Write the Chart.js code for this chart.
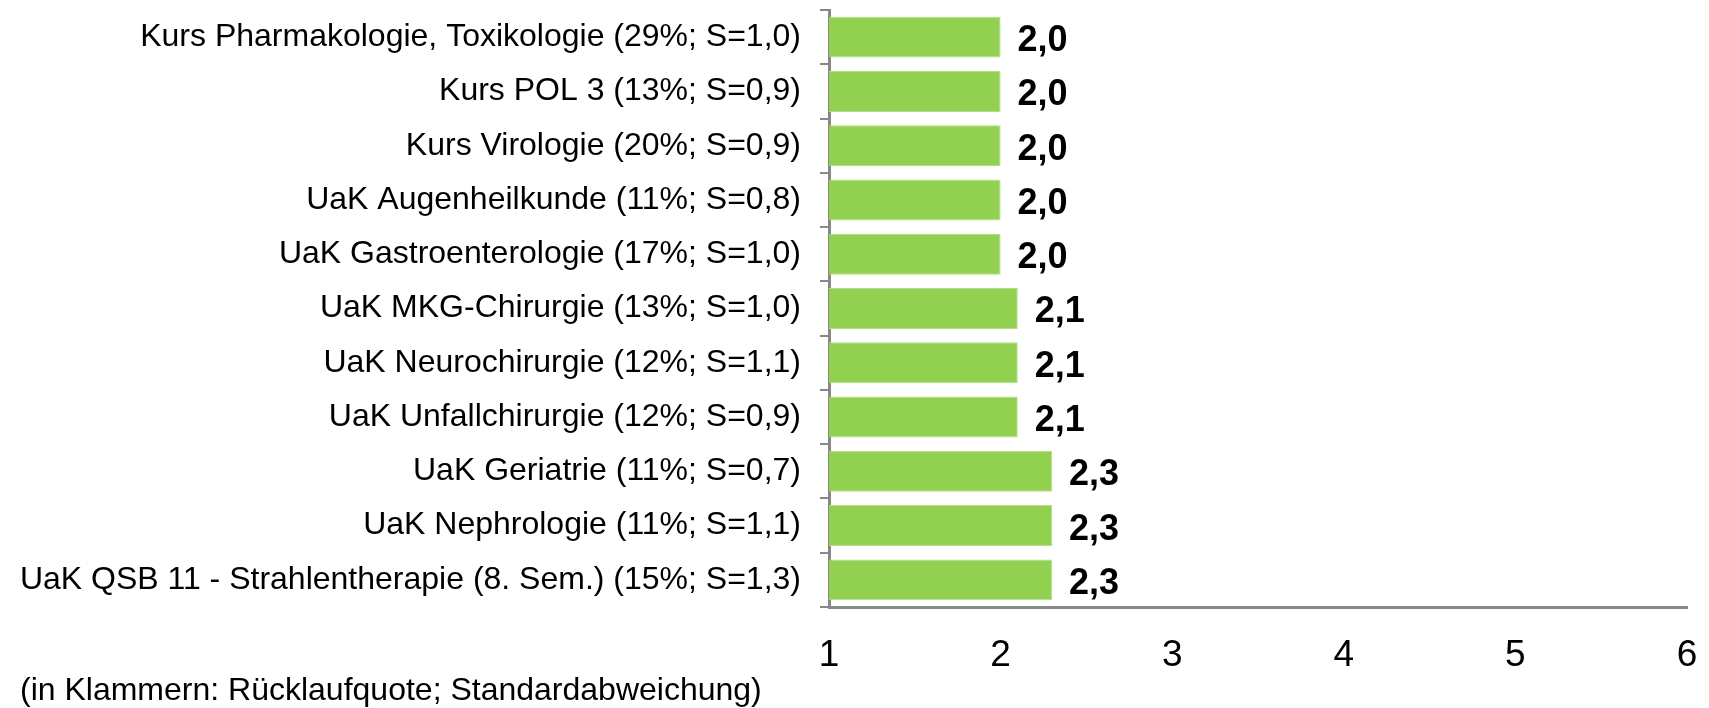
<!DOCTYPE html>
<html>
<head>
<meta charset="utf-8">
<script src="https://cdn.jsdelivr.net/npm/chart.js@4/dist/chart.umd.min.js"></script>
<style>
  html, body { margin: 0; padding: 0; background: #fff; }
  #wrap { width: 1709px; height: 708px; position: relative; }
</style>
</head>
<body>
<div id="wrap"><canvas id="evalChart"></canvas></div>
<script>
// Lehrveranstaltungen mit Rücklaufquote und Standardabweichung
const courses = [
  'Kurs Pharmakologie, Toxikologie (29%; S=1,0)',
  'Kurs POL 3 (13%; S=0,9)',
  'Kurs Virologie (20%; S=0,9)',
  'UaK Augenheilkunde (11%; S=0,8)',
  'UaK Gastroenterologie (17%; S=1,0)',
  'UaK MKG-Chirurgie (13%; S=1,0)',
  'UaK Neurochirurgie (12%; S=1,1)',
  'UaK Unfallchirurgie (12%; S=0,9)',
  'UaK Geriatrie (11%; S=0,7)',
  'UaK Nephrologie (11%; S=1,1)',
  'UaK QSB 11 - Strahlentherapie (8. Sem.) (15%; S=1,3)'
];
const grades = [2.0, 2.0, 2.0, 2.0, 2.0, 2.1, 2.1, 2.1, 2.3, 2.3, 2.3];
const gradeMin = 1;
const gradeMax = 6;
const footNote = '(in Klammern: Rücklaufquote; Standardabweichung)';

const FONT = '"Liberation Sans", Arial, sans-serif';
const axisGray = '#888888';

// value labels right of each bar, German decimal comma
const valueLabels = {
  id: 'valueLabels',
  afterDatasetsDraw(chart) {
    const ctx = chart.ctx;
    const meta = chart.getDatasetMeta(0);
    ctx.save();
    ctx.font = 'bold 36px ' + FONT;
    ctx.fillStyle = '#000';
    ctx.textAlign = 'left';
    ctx.textBaseline = 'middle';
    meta.data.forEach((bar, i) => {
      const txt = grades[i].toFixed(1).replace('.', ',');
      ctx.fillText(txt, bar.x + 17, bar.y + 4);
    });
    ctx.restore();
  }
};

// footnote under the axis
const footNotePlugin = {
  id: 'footNote',
  afterDraw(chart) {
    const ctx = chart.ctx;
    ctx.save();
    ctx.font = '32px ' + FONT;
    ctx.fillStyle = '#000';
    ctx.textAlign = 'left';
    ctx.textBaseline = 'middle';
    ctx.fillText(footNote, 20, 691);
    ctx.restore();
  }
};

new Chart(document.getElementById('evalChart'), {
  type: 'bar',
  data: {
    labels: courses,
    datasets: [{
      data: grades,
      backgroundColor: '#92D050',
      borderColor: '#B2DE88',
      borderWidth: 1,
      borderSkipped: false,
      categoryPercentage: 1,
      barPercentage: 0.755
    }]
  },
  options: {
    indexAxis: 'y',
    responsive: true,
    maintainAspectRatio: false,
    animation: false,
    layout: {
      padding: { top: 10, right: 22, bottom: 36, left: 0 }
    },
    scales: {
      x: {
        min: gradeMin,
        max: gradeMax,
        ticks: {
          stepSize: 1,
          color: '#000',
          padding: 27,
          font: { family: FONT, size: 37 }
        },
        grid: { display: false, drawTicks: false },
        border: { display: true, color: axisGray, width: 3 },
        afterFit(scale) {
          scale.height = 65;
          scale.paddingLeft = 0;
          scale.paddingRight = 0;
        }
      },
      y: {
        ticks: {
          color: '#000',
          padding: 19,
          autoSkip: false,
          font: { family: FONT, size: 32 }
        },
        grid: {
          display: true,
          drawOnChartArea: false,
          offset: true,
          tickLength: 9,
          color: axisGray,
          lineWidth: 2
        },
        border: { display: true, color: axisGray, width: 3 },
        afterFit(scale) {
          scale.width = 829;
          scale.paddingTop = 0;
          scale.paddingBottom = 0;
        }
      }
    },
    plugins: {
      legend: { display: false },
      tooltip: { enabled: false }
    }
  },
  plugins: [valueLabels, footNotePlugin]
});
</script>
</body>
</html>
